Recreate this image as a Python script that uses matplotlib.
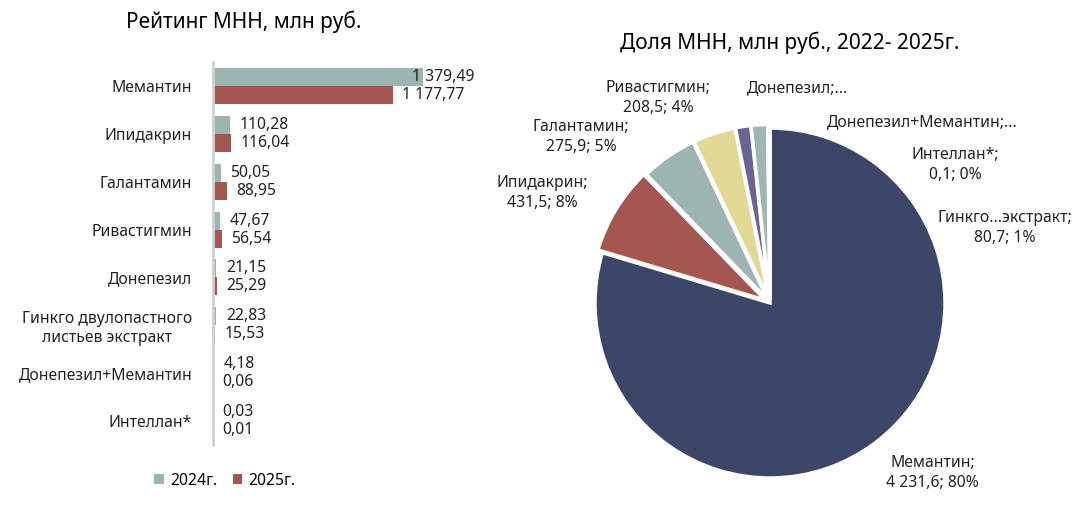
import numpy as np
import matplotlib.pyplot as plt

plt.rcParams['font.family'] = ['Noto Sans', 'DejaVu Sans']

# bar chart data
drugs = ["Мемантин", "Ипидакрин", "Галантамин", "Ривастигмин", "Донепезил",
         "Гинкго двулопастного\nлистьев экстракт", "Донепезил+Мемантин", "Интеллан*"]
sales_2024 = [1379.49, 110.28, 50.05, 47.67, 21.15, 22.83, 4.18, 0.03]
sales_2025 = [1177.77, 116.04, 88.95, 56.54, 25.29, 15.53, 0.06, 0.01]

# pie data (2022-2025)
pie_names = ["Мемантин", "Ипидакрин", "Галантамин", "Ривастигмин", "Донепезил",
             "Гинкго...экстракт", "Донепезил+Мемантин", "Интеллан*"]
pie_values = [4231.6, 431.5, 275.9, 208.5, 75.0, 80.7, 10.0, 0.1]
pie_labels = ["Мемантин;\n4 231,6; 80%", "Ипидакрин;\n431,5; 8%", "Галантамин;\n275,9; 5%",
              "Ривастигмин;\n208,5; 4%", "Донепезил;...", "Гинкго...экстракт;\n80,7; 1%",
              "Донепезил+Мемантин;...", "Интеллан*;\n0,1; 0%"]

c24 = '#9db5b2'
c25 = '#a5574f'
pie_colors = ['#3b4669', '#a5574f', '#9db5b2', '#e2da94', '#6b6391', '#9db8b4', '#c7d3d1', '#8a8a8a']
fs = 11.3

def fmt(v):
    s = f"{v:,.2f}".replace(",", " ").replace(".", ",")
    return s

fig = plt.figure(figsize=(10.9, 5.2), dpi=100)

# ---- bar chart ----
ax = fig.add_axes([213/1090, 75/520, 244/1090, 383/520])
y = np.arange(len(drugs))
h = 0.375
b1 = ax.barh(y - h/2, sales_2024, height=h, color=c24, label='2024г.')
b2 = ax.barh(y + h/2, sales_2025, height=h, color=c25, label='2025г.')
ax.set_xlim(0, 1600)
ax.set_ylim(7.49, -0.49)
ax.set_yticks(y)
ax.set_yticklabels(drugs, fontsize=fs, color='#222222', multialignment='center',
                   linespacing=1.25)
ax.tick_params(axis='y', length=0, pad=15)
ax.set_xticks([])
for s in ['top', 'right', 'bottom']:
    ax.spines[s].set_visible(False)
ax.spines['left'].set_color('#d0d0d0')
ax.spines['left'].set_linewidth(2)

xmax = max(sales_2024)
for bars, vals in [(b1, sales_2024), (b2, sales_2025)]:
    for bar, v in zip(bars, vals):
        yc = bar.get_y() + bar.get_height()/2
        off = -8 if v == xmax else 7
        ax.annotate(fmt(v), (v, yc), xytext=(off, 0), textcoords='offset points',
                    va='center', ha='left', fontsize=fs, color='#222222')

fig.legend(handles=[b1, b2], loc='center', bbox_to_anchor=(225/1090, 1 - 481/520), ncol=2,
           frameon=False, fontsize=fs, handlelength=0.6, handleheight=0.6,
           handletextpad=0.4, columnspacing=1.0)

fig.text(244/1090, 1 - 22/520, "Рейтинг МНН, млн руб.", ha='center', va='center',
         fontsize=15, fontweight='medium')
fig.text(790/1090, 1 - 43/520, "Доля МНН, млн руб., 2022- 2025г.", ha='center', va='center',
         fontsize=15, fontweight='medium')

# ---- pie chart ----
pax = fig.add_axes([560/1090, 7/520, 420/1090, 420/520])
explode = [0, 0.03, 0.02, 0.02, 0.02, 0.02, 0.02, 0.02]
wedges, _ = pax.pie(pie_values, colors=pie_colors, startangle=90, counterclock=False,
                    explode=explode, wedgeprops=dict(edgecolor='white', linewidth=2.5))
pax.set_xlim(-1.2, 1.2)
pax.set_ylim(-1.2, 1.2)
pax.set_aspect('equal')

# label placement (axes data units, radius = 1)
label_pos = [(0.93, -0.97), (-1.30, 0.63), (-1.08, 0.95), (-0.64, 1.17),
             (0.155, 1.225), (1.34, 0.43), (0.87, 1.035), (1.06, 0.79)]
for txt, (lx, ly) in zip(pie_labels, label_pos):
    pax.text(lx, ly, txt, ha='center', va='center', fontsize=fs, color='#222222',
             linespacing=1.3)

fig.savefig('out.png', dpi=100)
